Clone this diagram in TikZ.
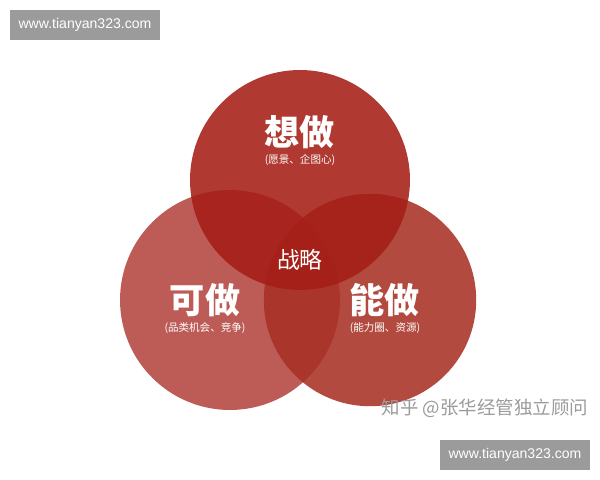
\documentclass[tikz,border=0pt]{standalone}
\usepackage{fontspec}
\newfontfamily\cjk{Noto Sans CJK SC}
\setmainfont{Liberation Sans}
\definecolor{RingTop}{HTML}{A51E16}
\definecolor{RingLeft}{HTML}{B4463F}
\definecolor{RingRight}{HTML}{A83126}
\definecolor{MarkGray}{HTML}{9B9B9B}
\tikzset{ring/.style={circle, minimum size=4.4cm, inner sep=0pt, fill opacity=0.88},
  title/.style={text=white, font=\cjk\bfseries\fontsize{20}{22}\selectfont},
  sub/.style={text=white, font=\cjk\fontsize{6}{7}\selectfont},
  site/.style={fill=MarkGray, text=white, minimum width=3cm, minimum height=0.6cm, inner sep=0pt, font=\fontsize{8}{9}\selectfont}}
\begin{document}
\begin{tikzpicture}[x=0.02cm,y=-0.02cm]
\useasboundingbox (0,0) rectangle (600,480);
\node[ring, fill=RingLeft] (can) at (230,300) {};
\node[ring, fill=RingRight, minimum size=4.25cm] (able) at (370,300) {};
\node[ring, fill=RingTop] (want) at (300,180) {};
% labels
\node[title] (wantT) at (300,132) {想做};
\node[sub] (wantS) at (300,160) {(愿景、企图心)};
\node[title] (canT) at (205,300) {可做};
\node[sub] (canS) at (205,328) {(品类机会、竞争)};
\node[title] (ableT) at (385,300) {能做};
\node[sub] (ableS) at (385,328) {(能力圈、资源)};
\node[text=white, font=\cjk\fontsize{13}{15}\selectfont] (core) at (300,260) {战略};
% marks
\node[site] (siteA) at (85,25) {www.tianyan323.com};
\node[site] (siteB) at (515,455) {www.tianyan323.com};
\node[text=MarkGray, font=\cjk\fontsize{10.5}{12}\selectfont] (zhihu) at (485,408) {知乎 @张华经管独立顾问};
\end{tikzpicture}
\end{document}
